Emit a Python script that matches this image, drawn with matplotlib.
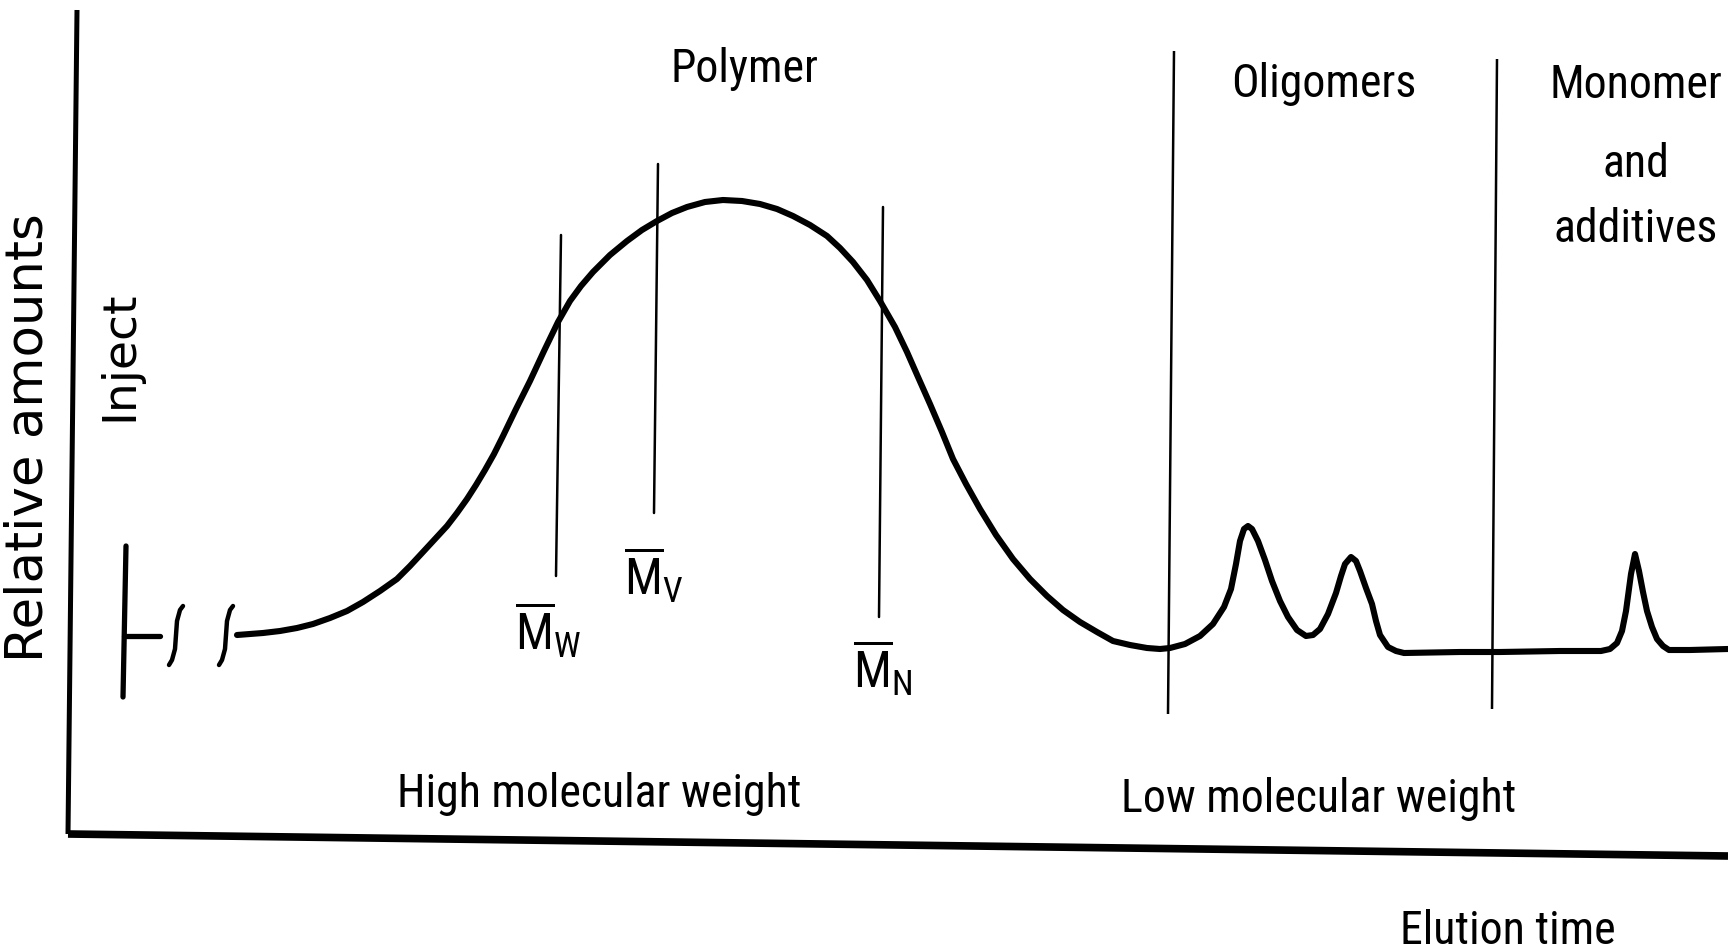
import matplotlib
matplotlib.use('Agg')
import matplotlib.pyplot as plt
from matplotlib import font_manager

W, H = 1728, 953

# ---------------- data (x = elution time, y = detector signal, screen units) ----
elution_time = [237, 250, 263, 280, 297, 313, 330, 347, 363, 380, 397, 410, 423, 435, 447, 457, 467,
                476, 485, 494, 503, 516, 530, 544, 558, 570, 581, 593, 610, 627, 642, 657, 672, 687,
                705, 723, 742, 760, 777, 793, 810, 827, 840, 853, 867, 880, 895, 907, 918, 930, 942,
                953, 966, 980, 996, 1013, 1030, 1047, 1063, 1080, 1097, 1113, 1130, 1147, 1160,
                1170, 1185, 1200, 1213, 1224, 1231, 1236, 1240, 1244, 1248, 1252, 1258, 1265,
                1272, 1280, 1288, 1297, 1306, 1313, 1320, 1328, 1336, 1341, 1345, 1351, 1356, 1360,
                1366, 1372, 1376, 1380, 1388, 1396, 1404, 1460, 1500, 1560, 1601, 1610, 1617, 1622,
                1626, 1631, 1635, 1639, 1643, 1647, 1652, 1657, 1663, 1669, 1690, 1728]
signal = [636, 635, 634, 632, 629, 625, 619, 612, 603, 592, 580, 567, 553, 540, 527, 514, 500,
          486, 471, 455, 437, 410, 382, 352, 323, 302, 287, 273, 256, 242, 231, 222, 214, 208,
          203, 201, 202, 205, 210, 217, 226, 237, 249, 263, 281, 302, 328, 353, 378, 405, 433,
          460, 485, 510, 536, 560, 580, 597, 611, 623, 633, 642, 646, 649, 650,
          649, 645, 637, 625, 608, 590, 565, 542, 530, 527, 530, 542, 561,
          582, 602, 618, 631, 637, 636, 630, 615, 594, 577, 565, 558, 562, 572,
          589, 605, 622, 636, 648, 652, 654, 653, 653, 652, 652, 650, 644, 632,
          612, 575, 555, 572, 593, 612, 628, 640, 647, 651, 651, 650]

averages = [r'$\overline{\mathrm{M}}_{\mathrm{W}}$', r'$\overline{\mathrm{M}}_{\mathrm{V}}$',
            r'$\overline{\mathrm{M}}_{\mathrm{N}}$']
average_top_x = [561, 658, 883]
average_bot_x = [556, 654, 879]
average_top = [236, 165, 208]
average_bot = [577, 514, 618]

divider_top_x = [1174, 1497]
divider_bot_x = [1168, 1492]
divider_top = [52, 60]
divider_bot = [715, 710]

region_labels = ['Polymer', 'Oligomers']
region_label_x = [745, 1324]
region_label_y = [82, 97]

mono_lines = ['Monomer', 'and', 'additives']
mono_line_y = [98, 177, 242]

# ---------------- fonts ----------------
ttf = font_manager.fontManager.ttflist
names = {f.name for f in ttf}
preferred = ['Liberation Sans Narrow', 'Roboto Condensed', 'Open Sans Condensed',
             'Noto Sans Condensed', 'DejaVu Sans Condensed']
hfont, hsize, msize = 'Liberation Sans', 30, 32
for p in preferred:
    if p in names:
        hfont, hsize, msize = p, 33, 36
        break

plt.rcParams['mathtext.fontset'] = 'custom'
plt.rcParams['mathtext.rm'] = hfont
plt.rcParams['mathtext.it'] = hfont
plt.rcParams['mathtext.bf'] = hfont

fig = plt.figure(figsize=(W / 100, H / 100), dpi=100)
ax = fig.add_axes([0, 0, 1, 1])
ax.set_xlim(0, W)
ax.set_ylim(H, 0)
ax.axis('off')

# axes (slightly skewed as in the scan)
ax.plot([77, 68], [11, 835], color='black', lw=3.6, solid_capstyle='butt')
ax.plot([68, 1728], [835, 857], color='black', lw=5.5, solid_capstyle='butt')

# inject marker
ax.plot([126, 123], [547, 698], color='black', lw=3.8, solid_capstyle='round')
ax.plot([124, 160], [637, 637], color='black', lw=3.8, solid_capstyle='round')
for sx in [176, 226]:
    ax.plot([sx + 7, sx + 4, sx + 1, sx, sx - 1, sx - 4, sx - 7],
            [607, 611, 622, 636, 650, 661, 666], color='black', lw=3.2,
            solid_capstyle='round', solid_joinstyle='round')

# chromatogram
ax.plot(elution_time, signal, color='black', lw=4.4,
        solid_joinstyle='round', solid_capstyle='round')

# molecular-weight average markers
for tx, bx, ty, by in zip(average_top_x, average_bot_x, average_top, average_bot):
    ax.plot([tx, bx], [ty, by], color='black', lw=1.8, solid_capstyle='round')
label_pos = [(515, 650), (624, 595), (853, 688)]
for lab, (lx, ly) in zip(averages, label_pos):
    ax.text(lx, ly, lab, fontsize=msize, ha='left', va='baseline', family=hfont)

for tx, bx, ty, by in zip(divider_top_x, divider_bot_x, divider_top, divider_bot):
    ax.plot([tx, bx], [ty, by], color='black', lw=1.8, solid_capstyle='butt')

# labels
for lab, lx, ly in zip(region_labels, region_label_x, region_label_y):
    ax.text(lx, ly, lab, fontsize=hsize, ha='center', va='baseline', family=hfont)
for lab, ly in zip(mono_lines, mono_line_y):
    ax.text(1636, ly, lab, fontsize=hsize, ha='center', va='baseline', family=hfont)

ax.text(599, 807, 'High molecular weight', fontsize=hsize, ha='center', va='baseline', family=hfont)
ax.text(1319, 812, 'Low molecular weight', fontsize=hsize, ha='center', va='baseline', family=hfont)
ax.text(1508, 944, 'Elution time', fontsize=hsize, ha='center', va='baseline', family=hfont)

ax.text(29, 438, 'Relative amounts', fontsize=37, rotation=90, ha='center', va='center',
        family='DejaVu Sans')
ax.text(120, 356, 'Inject', fontsize=34, rotation=90, ha='center', va='center',
        family='DejaVu Sans')

fig.savefig('out.png', dpi=100, facecolor='white')
